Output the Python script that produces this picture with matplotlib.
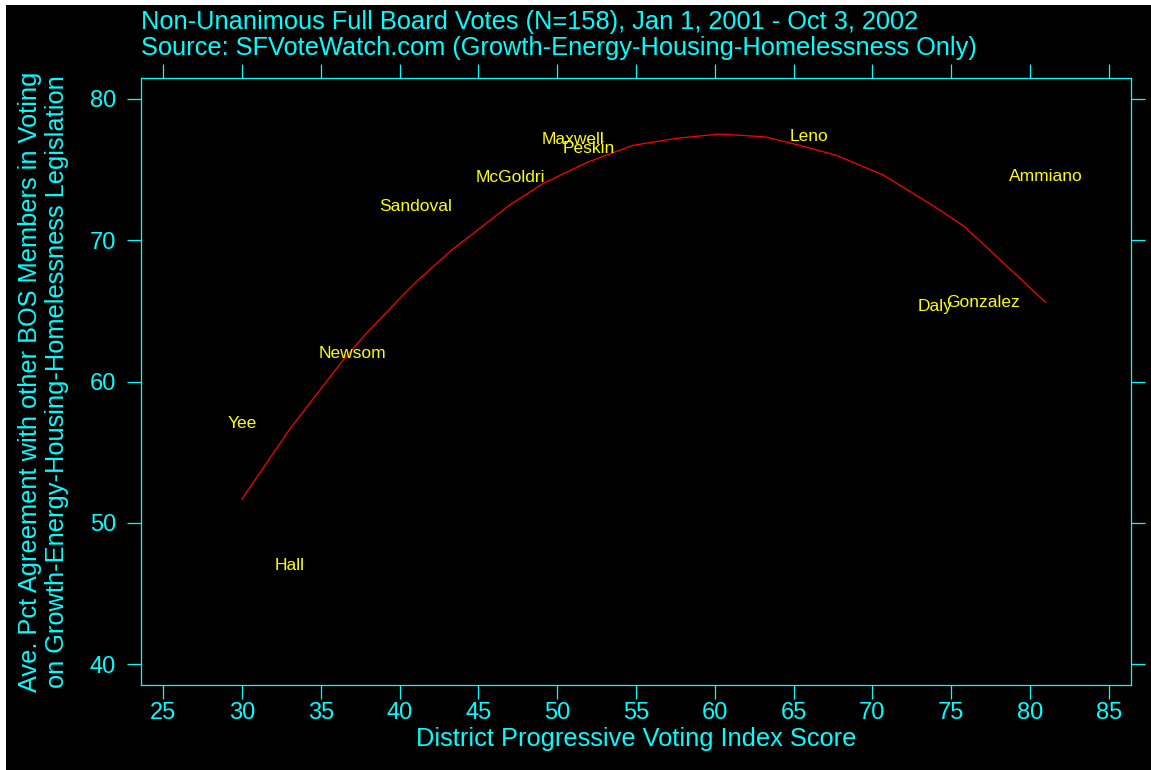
import matplotlib
matplotlib.use("Agg")
import matplotlib.pyplot as plt
from matplotlib.patches import Rectangle

# board members: progressive index score vs. agreement pct
names = ["Yee", "Hall", "Newsom", "Sandoval", "McGoldri", "Maxwell",
         "Peskin", "Leno", "Daly", "Gonzalez", "Ammiano"]
pvi = [30, 33, 37, 41, 47, 51, 52, 66, 74, 77, 81]
agree = [57.0, 47.0, 62.0, 72.4, 74.4, 77.1, 76.5, 77.3, 65.3, 65.6, 74.5]

# smooth fit line
fit_x = [30.0, 33.0, 36.4, 37.8, 40.2, 41.1, 42.6, 43.3, 44.7, 47.0, 49.1,
         51.9, 54.8, 57.6, 60.3, 63.2, 65.4, 67.7, 70.7, 73.9, 75.8, 78.5, 81.0]
fit_y = [51.7, 56.6, 61.5, 63.3, 66.1, 67.1, 68.6, 69.3, 70.5, 72.5, 74.0,
         75.5, 76.7, 77.2, 77.5, 77.3, 76.7, 76.0, 74.6, 72.4, 71.0, 68.2, 65.6]

xticks = [25, 30, 35, 40, 45, 50, 55, 60, 65, 70, 75, 80, 85]
yticks = [40, 50, 60, 70, 80]

CYAN = "#00FFFF"
YELLOW = "#FFFF00"
W, H = 1151, 770
FS = 18.3

plt.rcParams['font.family'] = ['Liberation Sans', 'DejaVu Sans']

fig = plt.figure(figsize=(W / 100, H / 100), dpi=100, facecolor="white")
# black panel with thin white margin on top/left
fig.patches.append(Rectangle((6 / W, 0), 1, (H - 5) / H, transform=fig.transFigure,
                             facecolor="black", edgecolor="none", zorder=-10))

ax = fig.add_axes([141 / W, (H - 685.3) / H, (1131 - 141) / W, (685.3 - 77.7) / H])
ax.set_facecolor("black")
ax.set_xlim(23.585, 86.415)
ax.set_ylim(38.515, 81.485)

ax.plot(fit_x, fit_y, color="red", lw=0.9)
for n, x, y in zip(names, pvi, agree):
    ax.text(x, y, n, color=YELLOW, fontsize=12.5, ha="center", va="center")

for s in ax.spines.values():
    s.set_color(CYAN)
    s.set_linewidth(0.9)
ax.set_xticks(xticks)
ax.set_yticks(yticks)
ax.tick_params(axis="both", direction="out", length=10, width=0.9, color=CYAN,
               labelcolor=CYAN, labelsize=17, top=True, right=True)
ax.tick_params(axis="x", pad=2)
ax.tick_params(axis="y", pad=8)

fig.text(141 / W, 1 - 29.3 / H, "Non-Unanimous Full Board Votes (N=158), Jan 1, 2001 - Oct 3, 2002",
         color=CYAN, fontsize=FS, ha="left", va="baseline")
fig.text(141 / W, 1 - 55 / H, "Source: SFVoteWatch.com (Growth-Energy-Housing-Homelessness Only)",
         color=CYAN, fontsize=FS, ha="left", va="baseline")
fig.text(636 / W, 1 - 746 / H, "District Progressive Voting Index Score",
         color=CYAN, fontsize=FS, ha="center", va="baseline")
fig.text(37 / W, 1 - 381.5 / H, "Ave. Pct Agreement with other BOS Members in Voting",
         color=CYAN, fontsize=FS, ha="center", va="baseline", rotation=90, rotation_mode="anchor")
fig.text(64 / W, 1 - 381.5 / H, "on Growth-Energy-Housing-Homelessness Legislation",
         color=CYAN, fontsize=FS, ha="center", va="baseline", rotation=90, rotation_mode="anchor")

fig.savefig("out.png", dpi=100, facecolor=fig.get_facecolor())
